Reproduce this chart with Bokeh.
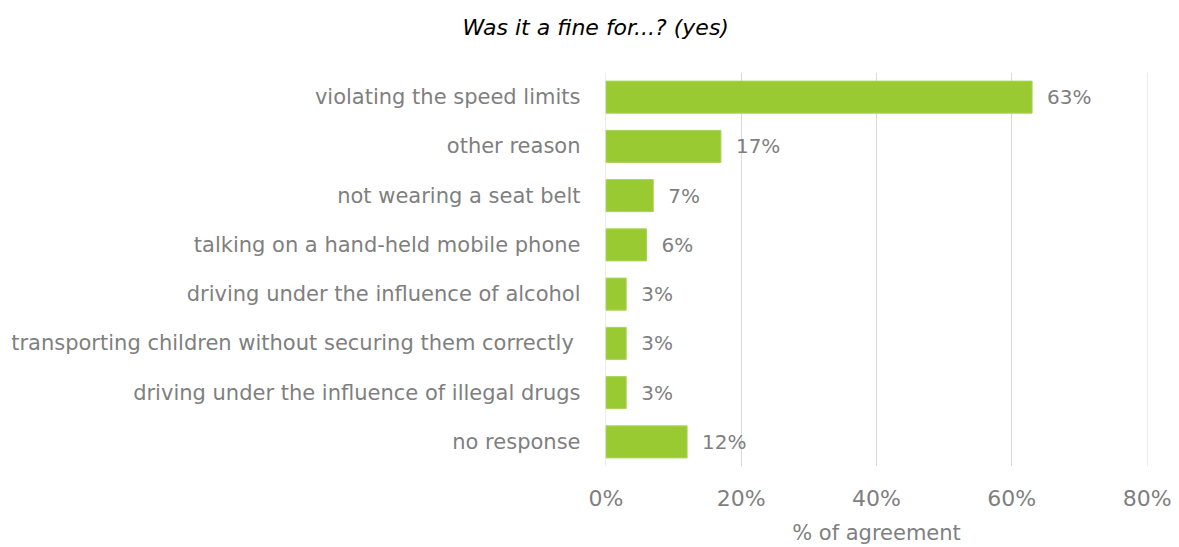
from bokeh.plotting import figure
from bokeh.models import ColumnDataSource, FactorRange, Range1d, FixedTicker, Title
from bokeh.embed import file_html
from bokeh.resources import INLINE

title_text = "Was it a fine for...? (yes)"
axis_title = "% of agreement"
categories = [
    "violating the speed limits",
    "other reason",
    "not wearing a seat belt",
    "talking on a hand-held mobile phone",
    "driving under the influence of alcohol",
    "transporting children without securing them correctly ",
    "driving under the influence of illegal drugs",
    "no response",
]
values = [63, 17, 7, 6, 3, 3, 3, 12]
ticks = [0, 20, 40, 60, 80]

FONT = "DejaVu Sans"
GRAY = "#7f7f7f"
GREEN = "#9aca32"

factors = list(reversed(categories))
src = ColumnDataSource(dict(
    cat=categories,
    val=values,
    lab=[f"{v}%" for v in values],
))

p = figure(
    width=1179, height=547,
    y_range=FactorRange(*factors, range_padding=0),
    x_range=Range1d(-0.06, 80.06),
    output_backend="svg", toolbar_location=None,
    min_border_left=605, min_border_right=32,
    min_border_top=72, min_border_bottom=81,
)
p.outline_line_color = None
p.background_fill_color = "white"
p.border_fill_color = "white"

# spacer panel between frame and title
p.add_layout(Title(text=" ", text_font_size="10px", standoff=20), "above")

p.title.text = title_text
p.title.align = "left"
p.title.offset = -143
p.title.standoff = 0
p.title.text_font = FONT
p.title.text_font_style = "italic"
p.title.text_font_size = "22px"
p.title.text_color = "black"

p.hbar(y="cat", right="val", left=0, height=0.65, source=src,
       fill_color=GREEN, line_color="#a8d45a", line_width=1)

p.text(x="val", y="cat", text="lab", source=src, x_offset=15,
       text_baseline="middle", text_align="left",
       text_color=GRAY, text_font_size="20px", text_font={"value": FONT})

# axes
p.xaxis.ticker = FixedTicker(ticks=ticks)
p.xaxis.major_label_overrides = {t: f"{t}%" for t in ticks}
p.xaxis.axis_line_color = None
p.xaxis.major_tick_line_color = None
p.xaxis.minor_tick_line_color = None
p.xaxis.major_tick_out = 0
p.xaxis.major_tick_in = 0
p.xaxis.major_label_standoff = 19
p.xaxis.major_label_text_font = FONT
p.xaxis.major_label_text_font_size = "22px"
p.xaxis.major_label_text_color = GRAY
p.xaxis.axis_label = axis_title
p.xaxis.axis_label_standoff = 7
p.xaxis.axis_label_text_font = FONT
p.xaxis.axis_label_text_font_style = "normal"
p.xaxis.axis_label_text_font_size = "21px"
p.xaxis.axis_label_text_color = GRAY

p.yaxis.axis_line_color = None
p.yaxis.major_tick_line_color = None
p.yaxis.minor_tick_line_color = None
p.yaxis.major_tick_out = 0
p.yaxis.major_tick_in = 0
p.yaxis.major_label_standoff = 25
p.yaxis.major_label_text_font = FONT
p.yaxis.major_label_text_font_size = "21px"
p.yaxis.major_label_text_color = GRAY

p.xgrid.grid_line_color = "#d9d9d9"
p.xgrid.grid_line_width = 1
p.ygrid.grid_line_color = None

open("out.html", "w").write(file_html(p, INLINE))
